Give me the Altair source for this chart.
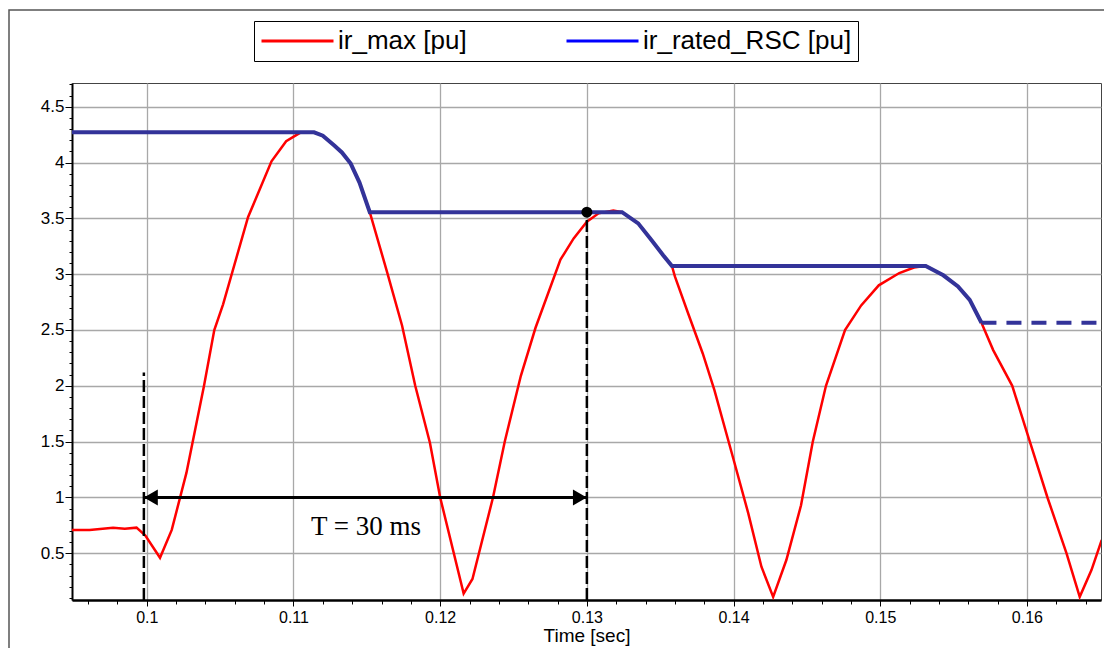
import altair as alt
import pandas as pd

# ---------------- data ----------------
t_red = [0.0949, 0.0961, 0.0977, 0.0985, 0.0993, 0.0999, 0.1009, 0.1017, 0.1027,
         0.1039, 0.1046, 0.1052, 0.1069, 0.1085, 0.1095, 0.1105, 0.1114,
         0.1120, 0.1128, 0.1133, 0.1139, 0.1145, 0.1152, 0.1164, 0.1174,
         0.1183, 0.1193, 0.1200, 0.1216, 0.1222, 0.1236, 0.1244, 0.1255,
         0.1265, 0.1282, 0.1291, 0.1300, 0.1308, 0.1318, 0.1324, 0.1335,
         0.1344, 0.1352, 0.1358, 0.1360, 0.1369, 0.1379, 0.1387, 0.1400,
         0.1410, 0.1419, 0.1427, 0.1436, 0.1446, 0.1454, 0.1463, 0.1476,
         0.1487, 0.1499, 0.1513, 0.1523, 0.1531, 0.1543, 0.1553, 0.1561,
         0.1569, 0.1577, 0.1590, 0.1602, 0.1614, 0.1627, 0.1636, 0.1644, 0.1651]
ir_max = [0.71, 0.71, 0.73, 0.72, 0.73, 0.66, 0.46, 0.71, 1.22,
          2.00, 2.50, 2.73, 3.51, 4.01, 4.19, 4.27, 4.27,
          4.24, 4.15, 4.09, 3.99, 3.82, 3.555, 3.01, 2.54,
          2.00, 1.49, 1.00, 0.14, 0.27, 1.00, 1.50, 2.09,
          2.52, 3.13, 3.32, 3.47, 3.545, 3.57, 3.555, 3.455,
          3.306, 3.17, 3.073, 2.98, 2.65, 2.29, 1.96, 1.34,
          0.86, 0.38, 0.11, 0.44, 0.93, 1.50, 2.00, 2.50,
          2.72, 2.90, 3.01, 3.06, 3.076, 2.99, 2.89, 2.77,
          2.565, 2.32, 2.00, 1.50, 1.00, 0.50, 0.11, 0.35, 0.62]

t_rated = [0.0949, 0.1114, 0.1120, 0.1128, 0.1133, 0.1139, 0.1145, 0.1152,
           0.1324, 0.1335, 0.1344, 0.1352, 0.1358,
           0.1531, 0.1543, 0.1553, 0.1561, 0.1569]
ir_rated = [4.27, 4.27, 4.24, 4.15, 4.09, 3.99, 3.82, 3.555,
            3.555, 3.455, 3.306, 3.17, 3.073,
            3.073, 2.99, 2.89, 2.77, 2.565]

t_rated_dash = [0.1569, 0.1651]
ir_rated_dash = [2.565, 2.565]

series_names = ["ir_max [pu]", "ir_rated_RSC [pu]"]
series_colors = ["#ff0000", "#0000ff"]

# annotation values
t_start, t_end = 0.0998, 0.1300
marker_top = [2.12, 3.555]
arrow_level = 1.0
label_text = "T = 30 ms"
label_t, label_v = 0.11495, 0.735

x_domain = [0.0949, 0.16505]
y_domain = [0.082, 4.712]
x_ticks = [round(0.096 + 0.002 * i, 3) for i in range(35)]
y_ticks = [round(0.1 * i, 1) for i in range(1, 48)]

FONT = "Liberation Sans"

# ---------------- chart ----------------
red_df = pd.DataFrame({"t": t_red, "v": ir_max, "series": series_names[0]})
blue_df = pd.DataFrame({"t": t_rated, "v": ir_rated})
blue_dash_df = pd.DataFrame({"t": t_rated_dash, "v": ir_rated_dash})
vline_df = pd.DataFrame({"t": [t_start, t_end], "v": [y_domain[0], y_domain[0]], "v2": marker_top})
arrow_df = pd.DataFrame({"t": [t_start], "t2": [t_end], "v": [arrow_level]})
left_head = pd.DataFrame({"t": [t_start], "v": [arrow_level]})
right_head = pd.DataFrame({"t": [t_end], "v": [arrow_level]})
dot_df = pd.DataFrame({"t": [t_end], "v": [marker_top[1]]})
text_df = pd.DataFrame({"t": [label_t], "v": [label_v], "txt": [label_text]})

major_x = "abs(datum.value*100 - round(datum.value*100)) < 0.01"
major_y = "abs(datum.value*2 - round(datum.value*2)) < 0.01"

xs = alt.Scale(domain=x_domain, nice=False, zero=False)
ys = alt.Scale(domain=y_domain, nice=False, zero=False)

x_axis = alt.Axis(
    values=x_ticks,
    labelExpr=f"{major_x} ? format(datum.value, '~g') : ''",
    grid=True, gridColor="#a8a8a8", gridWidth=1.3,
    gridOpacity={"condition": {"test": major_x, "value": 1}, "value": 0},
    tickSize={"condition": {"test": major_x, "value": 6}, "value": 4},
    tickColor="black", tickWidth=1,
    domainColor="black", domainWidth=2.5,
    labelFont=FONT, labelFontSize=16, labelColor="black", labelPadding=3,
    labelOverlap=False, labelFlush=False,
    title="Time [sec]", titleFont=FONT, titleFontSize=19, titleFontWeight="normal",
    titleColor="black", titlePadding=1,
)
y_axis = alt.Axis(
    values=y_ticks,
    labelExpr=f"{major_y} ? format(datum.value, '~g') : ''",
    grid=True, gridColor="#a8a8a8", gridWidth=1.3,
    gridOpacity={"condition": {"test": major_y, "value": 1}, "value": 0},
    tickSize={"condition": {"test": major_y, "value": 7}, "value": 3},
    tickColor="black", tickWidth=1,
    domainColor="black", domainWidth=2,
    labelFont=FONT, labelFontSize=17, labelColor="black", labelPadding=1,
    labelOverlap=False, labelFlush=False, title=None,
)

X = alt.X("t:Q", scale=xs, axis=x_axis)
Y = alt.Y("v:Q", scale=ys, axis=y_axis)

legend = alt.Legend(
    orient="none", legendX=182, legendY=-62, direction="horizontal", title=None,
    symbolType="stroke", symbolSize=5184, symbolStrokeWidth=3, clipHeight=28,
    labelFont=FONT, labelFontSize=26, labelColor="black", labelOffset=3, labelLimit=400,
    columnPadding=98, strokeColor="black", fillColor="white", padding=6,
)

red = alt.Chart(red_df).mark_line(strokeWidth=2.5, clip=True).encode(
    x=X, y=Y,
    color=alt.Color("series:N", scale=alt.Scale(domain=series_names, range=series_colors), legend=legend),
)
blue = alt.Chart(blue_df).mark_line(strokeWidth=4, clip=True, color="#333399").encode(x=X, y=Y)
blue_dash = alt.Chart(blue_dash_df).mark_line(strokeWidth=4, clip=True, color="#333399",
                                              strokeDash=[15, 10]).encode(x=X, y=Y)
vlines = alt.Chart(vline_df).mark_rule(color="black", strokeWidth=2.5, strokeDash=[12, 4]).encode(
    x=X, y=Y, y2="v2:Q")
shaft = alt.Chart(arrow_df).mark_rule(color="black", strokeWidth=3).encode(x=X, x2="t2:Q", y=Y)
lhead = alt.Chart(left_head).mark_point(shape="triangle-left", filled=True, color="black",
                                        opacity=1, size=256, xOffset=7).encode(x=X, y=Y)
rhead = alt.Chart(right_head).mark_point(shape="triangle-right", filled=True, color="black",
                                         opacity=1, size=256, xOffset=-7).encode(x=X, y=Y)
dot = alt.Chart(dot_df).mark_point(shape="circle", filled=True, color="black", opacity=1,
                                   size=120).encode(x=X, y=Y)
label = alt.Chart(text_df).mark_text(font="Liberation Serif", fontSize=27, color="black",
                                     align="center", baseline="middle").encode(x=X, y=Y, text="txt:N")
frame = alt.Chart(pd.DataFrame({"a": [0]})).mark_rect(fillOpacity=0, stroke="#555555",
                                                    strokeWidth=1.5).encode(
    x=alt.value(-63), x2=alt.value(1060), y=alt.value(-73), y2=alt.value(700))

chart = alt.layer(frame, red, blue, blue_dash, vlines, shaft, lhead, rhead, dot, label).properties(
    width=1029, height=517,
    autosize=alt.AutoSizeParams(type="none"),
    padding={"left": 64, "top": 75, "right": 3, "bottom": 48},
    background="white",
).configure_view(stroke="#444444", strokeWidth=1)

chart.save("out.html", embed_options={"renderer": "svg", "actions": False})
